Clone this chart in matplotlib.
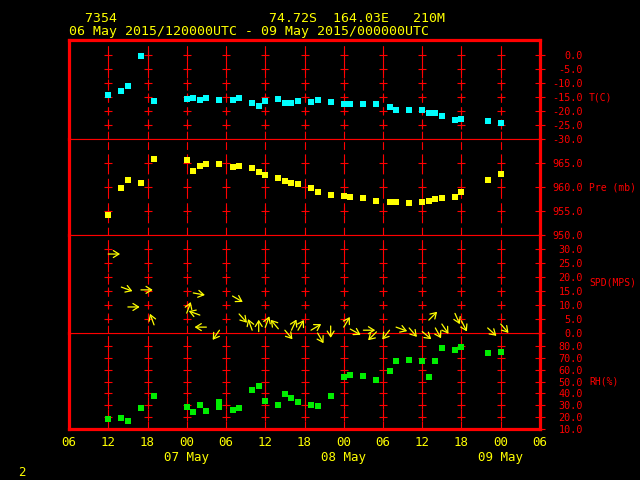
import numpy as np
import matplotlib.pyplot as plt

# hours after 06 May 2015 06UTC
obs_hr = [6, 8, 9, 11, 13, 18, 19, 20, 21, 23, 25, 26, 28, 29, 30, 32, 33, 34, 35,
          37, 38, 40, 42, 43, 45, 47, 49, 50, 52, 54, 55, 56, 57, 59, 60, 64, 66]
temp = [-14.3, -12.9, -11.1, -0.4, -16.4, -15.7, -15.4, -16.1, -15.4, -16.1, -16.1, -15.4, -17.1, -18.2, -16.4, -15.7, -17.1, -17.1, -16.4,
        -16.8, -16.1, -16.8, -17.5, -17.5, -17.5, -17.5, -18.6, -19.6, -19.6, -19.6, -20.7, -20.7, -21.8, -23.2, -22.9, -23.6, -24.3]
pres = [954.2, 959.8, 961.5, 960.8, 965.8, 965.6, 963.3, 964.4, 964.8, 964.8, 964.2, 964.4, 964.0, 963.1, 962.5, 961.9, 961.3, 960.8, 960.6,
        959.8, 959.0, 958.3, 958.1, 957.9, 957.7, 957.1, 956.9, 956.9, 956.7, 956.9, 957.1, 957.5, 957.7, 957.9, 959.0, 961.5, 962.7]
spd = [28.2, 16.4, 9.3, 15.4, 2.9, 7.1, 14.3, 6.4, 2.1, 1.0, 13.2, 6.8, 1.0, 0.5, 2.0, 1.5, 1.0, 1.0, 1.0,
       1.0, 0.0, 2.5, 2.1, 1.4, 1.0, 0.4, 1.0, 2.1, 1.8, 0.5, 4.6, 1.8, 3.2, 7.0, 4.3, 1.8, 3.2]
wdir = [270, 290, 270, 270, 160, 200, 280, 110, 90, 35, 300, 318, 160, 180, 200, 140, 320, 205, 210,
        239, 330, 0, 211, 299, 270, 45, 38, 290, 319, 310, 225, 331, 326, 336, 333, 312, 319]
rh_hr = [6, 8, 9, 11, 13, 18, 19, 20, 21, 23, 23, 25, 26, 28, 29, 30, 32, 33, 34, 35,
         37, 38, 40, 42, 43, 45, 47, 49, 50, 52, 54, 55, 56, 57, 59, 60, 64, 66]
rh = [18.5, 19.4, 16.8, 27.9, 38.2, 28.8, 24.5, 30.5, 25.4, 33.1, 28.8, 26.2, 27.9, 42.5, 45.9, 33.9, 30.5, 39.9, 36.5, 33.1,
      30.5, 29.6, 38.2, 53.6, 55.3, 54.4, 51.0, 58.7, 67.2, 68.1, 67.2, 53.6, 67.2, 78.3, 76.6, 79.2, 74.0, 74.9]

hour_ticks = list(range(0, 73, 6))
hour_labels = ['06', '12', '18', '00', '06', '12', '18', '00', '06', '12', '18', '00', '06']
day_hr = [18, 42, 66]
day_labels = ['07 May', '08 May', '09 May']

mono = 'DejaVu Sans Mono'
red = '#ff0000'
yel = '#ffff00'

fig = plt.figure(figsize=(6.4, 4.8), dpi=100, facecolor='black')

W, H = 640.0, 480.0
x0, x1 = 69, 540

def panel(top, bot, lo, hi, ticks, unit, unit_y):
    ax = fig.add_axes([x0 / W, 1 - bot / H, (x1 - x0) / W, (bot - top) / H])
    ax.set_facecolor('black')
    ax.set_xlim(0, 72)
    ax.set_ylim(lo, hi)
    ax.yaxis.tick_right()
    ax.set_yticks(ticks)
    ax.set_yticklabels(['%.1f' % t for t in ticks], family=mono)
    plt.setp(ax.get_yticklabels(), ha='right')
    ax.tick_params(axis='y', colors=red, direction='inout', length=7, width=0.8,
                   pad=27.5, labelsize=7.3)
    ax.set_xticks([])
    for s in ax.spines.values():
        s.set_color(red)
        s.set_linewidth(0.8)
    ax.spines['left'].set_linewidth(2.3)
    ax.spines['right'].set_linewidth(2.3)
    for h in range(6, 67, 6):
        ax.plot([h, h], [lo, hi], color=red, lw=0.8, dashes=(7, 4))
        inner = [t for t in ticks if lo < t < hi]
        ax.plot([h] * len(inner), inner, '+', color=red, ms=5.5, mew=0.8)
    ax.text(1.104, unit_y, unit, color=red, family=mono, fontsize=7,
            va='center', ha='left', transform=ax.get_yaxis_transform())
    return ax

ax_t = panel(40, 139, -30, 5.36, [0, -5, -10, -15, -20, -25, -30], 'T(C)', -15)
ax_p = panel(139, 235, 950, 970, [965, 960, 955, 950], 'Pre (mb)', 960)
ax_w = panel(235, 333, 0, 35, [30, 25, 20, 15, 10, 5, 0], 'SPD(MPS)', 17.9)
ax_r = panel(333, 429, 10, 91, [80, 70, 60, 50, 40, 30, 20, 10], 'RH(%)', 50)
ax_t.spines['top'].set_linewidth(2.3)
ax_r.spines['bottom'].set_linewidth(2.3)
ax_w.set_zorder(5)

ax_t.plot(obs_hr, temp, 's', color='#00ffff', ms=3.8, mew=0)
ax_p.plot(obs_hr, pres, 's', color=yel, ms=3.8, mew=0)
ax_r.plot(rh_hr, rh, 's', color='#00ee00', ms=3.8, mew=0)

# wind arrows: tail at the observation, pointing where the wind blows to
L = 8.5
for h, s, d in zip(obs_hr, spd, wdir):
    to = np.radians(d + 180)
    ax_w.annotate('', xy=(h, s), xytext=(L * np.sin(to), L * np.cos(to)),
                  textcoords='offset points', annotation_clip=False,
                  arrowprops=dict(arrowstyle='<-,head_length=0.4,head_width=0.25',
                                  color=yel, lw=0.9, shrinkA=0, shrinkB=0))

ax_r.set_xticks(hour_ticks)
ax_r.set_xticklabels(hour_labels, family=mono)
ax_r.tick_params(axis='x', length=0, colors=yel, labelsize=9, pad=5)
for h, lab in zip(day_hr, day_labels):
    ax_r.text(h, -0.3, lab, color=yel, family=mono, fontsize=9,
              ha='center', va='center', transform=ax_r.get_xaxis_transform())

fig.text(85 / W, 1 - 19 / H, '7354' + ' ' * 19 + '74.72S  164.03E   210M',
         color=yel, family=mono, fontsize=9.5, va='center')
fig.text(69 / W, 1 - 32 / H, '06 May 2015/120000UTC - 09 May 2015/000000UTC',
         color=yel, family=mono, fontsize=9.5, va='center')
fig.text(18 / W, 1 - 473 / H, '2', color=yel, family=mono, fontsize=9, va='center')

fig.savefig('out.png', dpi=100, facecolor='black')
